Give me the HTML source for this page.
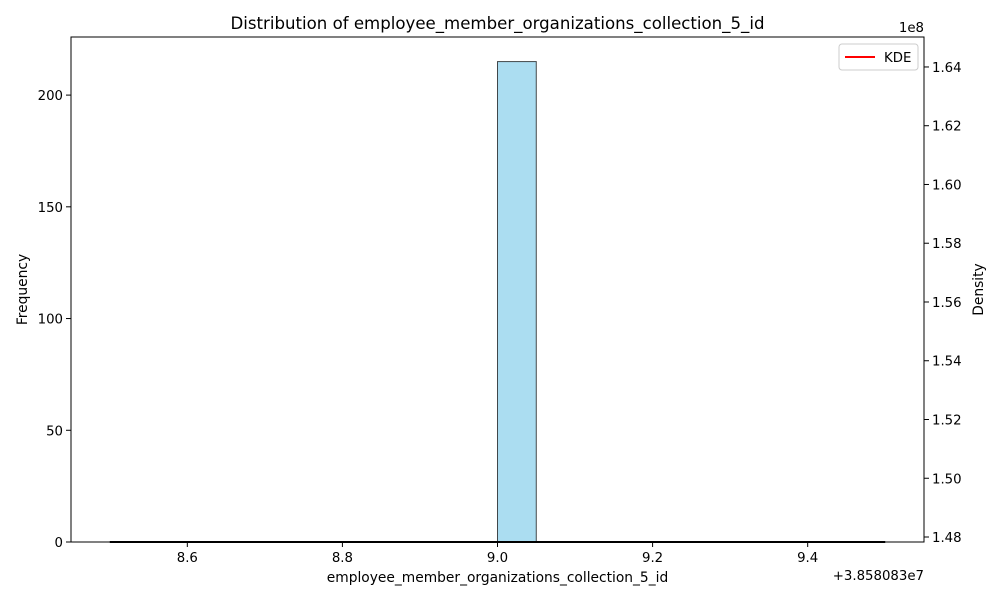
<!DOCTYPE html>
<html><head><meta charset="utf-8"><style>
body{margin:0;background:#fff;}
text{font-family:"DejaVu Sans","Liberation Sans",sans-serif;font-size:13.3px;fill:#000;}
</style></head><body>
<svg id="chart" width="1000" height="600" xmlns="http://www.w3.org/2000/svg">
<rect width="1000" height="600" fill="#fff"/>
<g id="plot"></g>
</svg>
<script>
const binEdgesStart = 8.5;
const binWidth = 0.05;
const binCounts = [0,0,0,0,0,0,0,0,0,0,215,0,0,0,0,0,0,0,0,0];
const xTicks = [8.6, 8.8, 9.0, 9.2, 9.4];
const yTicks = [0, 50, 100, 150, 200];
const y2Ticks = [1.48, 1.50, 1.52, 1.54, 1.56, 1.58, 1.60, 1.62, 1.64];

const L=71,R=924,T=37,B=542;
const xMin=8.45,xMax=9.55;
const yMax=226;
const y2Min=1.4783,y2Max=1.6502;
const sx=v=>L+(v-xMin)/(xMax-xMin)*(R-L);
const sy=v=>B-v/yMax*(B-T);
const sy2=v=>B-(v-y2Min)/(y2Max-y2Min)*(B-T);
const NS="http://www.w3.org/2000/svg";
const g=document.getElementById('plot');
function mk(tag,attrs,txt){const e=document.createElementNS(NS,tag);for(const k in attrs)e.setAttribute(k,attrs[k]);if(txt!==undefined)e.textContent=txt;g.appendChild(e);return e;}

binCounts.forEach((c,i)=>{
  const x0=sx(binEdgesStart+i*binWidth),x1=sx(binEdgesStart+(i+1)*binWidth);
  const r=mk('rect',{x:x0,y:sy(c),width:x1-x0,height:B-sy(c),fill:'rgba(135,206,235,0.7)',stroke:'rgba(0,0,0,0.7)','stroke-width':1});
  
  
});
let e;
e=mk('line',{x1:sx(binEdgesStart),x2:sx(binEdgesStart+binCounts.length*binWidth),y1:B,y2:B,stroke:'#000','stroke-width':2});


const fr=mk('rect',{x:L,y:T,width:R-L,height:B-T,fill:'none',stroke:'#000','stroke-width':1});


xTicks.forEach(v=>{
  mk('line',{x1:sx(v),x2:sx(v),y1:B,y2:B+5,stroke:'#000'});
  const t=mk('text',{x:sx(v),y:B+20,'text-anchor':'middle'},v.toFixed(1));
  
  
});
yTicks.forEach(v=>{
  mk('line',{x1:L-5,x2:L,y1:sy(v),y2:sy(v),stroke:'#000'});
  const t=mk('text',{x:L-8,y:sy(v)+5,'text-anchor':'end'},String(v));
  
  
});
y2Ticks.forEach(v=>{
  mk('line',{x1:R,x2:R+5,y1:sy2(v),y2:sy2(v),stroke:'#000'});
  const t=mk('text',{x:R+8,y:sy2(v)+5,'text-anchor':'start'},v.toFixed(2));
  
  
});
e=mk('text',{x:R,y:32,'text-anchor':'end'},'1e8');


e=mk('text',{x:R,y:580,'text-anchor':'end'},'+3.858083e7');


e=mk('text',{x:(L+R)/2,y:582,'text-anchor':'middle',style:'font-size:13.8px'},'employee_member_organizations_collection_5_id');


e=mk('text',{x:27,y:(T+B)/2,'text-anchor':'middle',style:'font-size:13.8px',transform:'rotate(-90 27 '+(T+B)/2+')'},'Frequency');


e=mk('text',{x:983,y:(T+B)/2,'text-anchor':'middle',style:'font-size:13.8px',transform:'rotate(-90 983 '+(T+B)/2+')'},'Density');


e=mk('text',{x:(L+R)/2,y:29,'text-anchor':'middle',style:'font-size:16.6px'},'Distribution of employee_member_organizations_collection_5_id');


e=mk('rect',{x:839,y:44,width:79,height:26,rx:3,fill:'#fff',stroke:'#ccc','fill-opacity':0.8});


e=mk('line',{x1:845,x2:875,y1:57,y2:57,stroke:'red','stroke-width':2});


e=mk('text',{x:884,y:62},'KDE');


</script>
</body></html>
